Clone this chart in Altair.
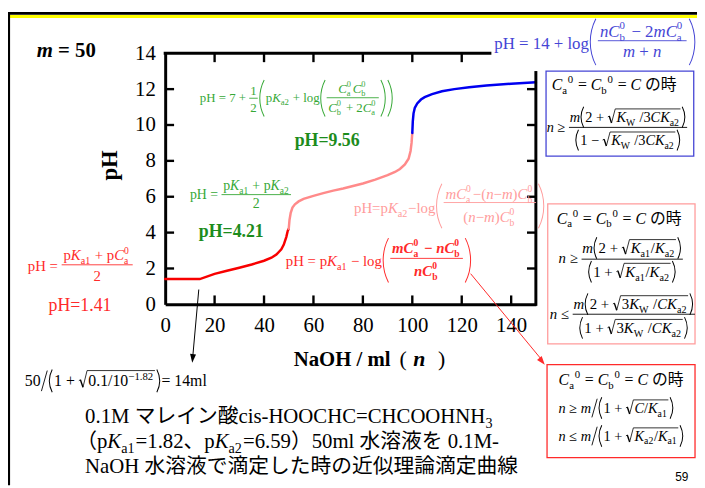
import math
import altair as alt
import pandas as pd

# ---------------- data ----------------
red_n   = [0, 14, 20, 25, 30, 35, 40, 43, 45, 47, 48, 49, 49.6, 50]
red_ph  = [1.41, 1.41, 1.70, 1.87, 2.04, 2.22, 2.43, 2.60, 2.78, 3.07, 3.33, 3.75, 4.10, 4.21]
pink_n  = [50, 50.3, 50.8, 51.5, 52.5, 54, 56, 60, 64, 68, 72, 76, 80, 85, 90, 93, 95, 97, 98.5, 99.3, 99.7, 100]
pink_ph = [4.21, 4.70, 5.10, 5.40, 5.58, 5.74, 5.88, 6.05, 6.20, 6.34, 6.46, 6.60, 6.74, 6.95, 7.20, 7.38, 7.55, 7.80, 8.12, 8.55, 9.00, 9.56]
blue_n  = [100, 100.2, 100.5, 101, 102, 103.5, 105, 108, 112, 117, 123, 130, 140, 150]
blue_ph = [9.56, 10.2, 10.65, 10.95, 11.2, 11.42, 11.55, 11.72, 11.88, 12.0, 12.1, 12.2, 12.3, 12.38]
x_ticks = [0, 20, 40, 60, 80, 100, 120, 140]
y_ticks = [0, 2, 4, 6, 8, 10, 12, 14]
top_ticks = [20, 40, 60, 80, 100, 120]
side_ticks = [2, 4, 6, 8, 10, 12]

RED = "#f80000"; PINK = "#ff8a8a"; BLUE = "#0000f0"
G_F = "#36a836"; G_B = "#1c8c1c"
RD = "#ff2a2a"; PK = "#ff9c9c"; BLF = "#4545d5"

OX, OY = 167, 51
SERIF = "Liberation Serif"
MIX = "Liberation Serif, Noto Sans CJK JP"
one = pd.DataFrame({"k": [0]})
layers = []

WR = {' ': .25, '!': .333, '(': .333, ')': .333, '+': .564, ',': .25, '-': .333, '.': .25, '/': .278,
      ':': .278, '=': .564, 'A': .722, 'B': .667, 'C': .667, 'D': .722, 'E': .611, 'F': .556, 'G': .722,
      'H': .722, 'I': .333, 'J': .389, 'K': .722, 'L': .611, 'M': .889, 'N': .722, 'O': .722, 'P': .556,
      'Q': .722, 'R': .667, 'S': .556, 'T': .611, 'U': .722, 'V': .722, 'W': .944, 'X': .722, 'Y': .722,
      'Z': .611, 'a': .444, 'b': .5, 'c': .444, 'd': .5, 'e': .444, 'f': .333, 'g': .5, 'h': .5, 'i': .278,
      'j': .278, 'k': .5, 'l': .278, 'm': .778, 'n': .5, 'o': .5, 'p': .5, 'q': .5, 'r': .333, 's': .389,
      't': .278, 'u': .5, 'v': .5, 'w': .722, 'x': .5, 'y': .5, 'z': .444, '−': .564, '≥': .549, '≤': .549}
WI = dict(WR); WI.update({'C': .667, 'K': .667, 'm': .722, 'n': .5, 'W': .833})
WB = dict(WR); WB.update({'p': .556, 'H': .778, '=': .570, 'O': .778, 'a': .5, 'm': .833, '−': .570, '+': .570})
WBI = dict(WB); WBI.update({'m': .778, 'n': .556, 'C': .667})
TABS = {"r": WR, "i": WI, "b": WB, "bi": WBI}


def tw(s, st):
    return sum(1.0 if ord(c) >= 0x2E80 else TABS[st].get(c, 0.5) for c in s)


def P(x):
    return x - OX


def Q(y):
    return y - OY


def text(s, x, y, size, color="black", st="r", align="left", baseline="alphabetic", angle=None, font=MIX):
    if align == "left":
        lead = len(s) - len(s.lstrip(" "))
        x += lead * 0.25 * size
        s = s.strip(" ")
        if not s:
            return
    kw = dict(text=s.replace(" ", "\u00a0"), fontSize=round(size, 2), color=color, font=font, align=align,
              baseline=baseline, fontStyle="italic" if "i" in st else "normal",
              fontWeight="bold" if "b" in st else "normal")
    if angle is not None:
        kw["angle"] = angle
    layers.append(alt.Chart(one).mark_text(**kw).encode(x=alt.value(P(x)), y=alt.value(Q(y))))


def seg(x1, y1, x2, y2, color="black", w=1.0):
    layers.append(alt.Chart(one).mark_rule(color=color, strokeWidth=w).encode(
        x=alt.value(P(x1)), y=alt.value(Q(y1)), x2=alt.value(P(x2)), y2=alt.value(Q(y2))))


def box(x1, y1, x2, y2, color, w=1.3):
    layers.append(alt.Chart(one).mark_rect(fillOpacity=0, stroke=color, strokeWidth=w).encode(
        x=alt.value(P(x1)), y=alt.value(Q(y1)), x2=alt.value(P(x2)), y2=alt.value(Q(y2))))


def arc(ch, xl, cy, h, w, color, lw=1.0):
    R_ = (h * h / 4 + w * w) / (2 * w)
    a = math.asin(min(1.0, (h / 2) / R_))
    if ch == "(":
        cx = xl + R_
        t1, t2 = 1.5 * math.pi - a, 1.5 * math.pi + a
    else:
        cx = xl + w - R_
        t1, t2 = 0.5 * math.pi - a, 0.5 * math.pi + a
    layers.append(alt.Chart(one).mark_arc(innerRadius=R_ - lw / 2, outerRadius=R_ + lw / 2, color=color).encode(
        x=alt.value(P(cx)), y=alt.value(Q(cy)), theta=alt.value(t1), theta2=alt.value(t2)))


def arrowhead(x, y, angle, color, size=300):
    layers.append(alt.Chart(one).mark_point(shape="M0,0L-0.35,-1L0.35,-1Z", filled=True, opacity=1,
                                            size=size, angle=angle, color=color, strokeWidth=0).encode(
        x=alt.value(P(x)), y=alt.value(Q(y))))


def R(s): return ("n", s, "r")
def I(s): return ("n", s, "i")
def B(s): return ("n", s, "b")
def BI(s): return ("n", s, "bi")
def SB(s, st="r"): return ("sub", s, st)
def SP(s, st="r"): return ("sup", s, st)
def SS(a, b, st="r"): return ("ss", (a, b), st)
def T(*toks): return ("t", list(toks))


SCR = 0.68


def lay(elems, x, base, s, col, draw=True):
    x0 = x
    for e in elems:
        k = e[0]
        if k == "t":
            for kind, txt, st in e[1]:
                if kind == "n":
                    if draw:
                        text(txt, x, base, s, col, st)
                    x += tw(txt, st) * s
                elif kind == "sub":
                    if draw:
                        text(txt, x, base + 0.24 * s, s * SCR, col, st)
                    x += tw(txt, st) * s * SCR + 0.05 * s
                elif kind == "sup":
                    if draw:
                        text(txt, x, base - 0.42 * s, s * SCR, col, st)
                    x += tw(txt, st) * s * SCR + 0.05 * s
                else:
                    a_, b_ = txt
                    if draw:
                        text(a_, x, base + 0.27 * s, s * SCR * 0.95, col, st)
                        text(b_, x, base - 0.46 * s, s * SCR * 0.95, col, st)
                    x += max(tw(a_, st), tw(b_, st)) * s * SCR + 0.12 * s
        elif k == "frac":
            num, den, o = e[1], e[2], e[3]
            wn = lay(num, 0, 0, s, col, False)
            wd = lay(den, 0, 0, s, col, False)
            pad = o.get("pad", 0.12) * s
            W = max(wn, wd) + 2 * pad
            ly = o.get("ly", base - 0.3 * s)
            if draw:
                seg(x, ly, x + W, ly, col, o.get("lw", 0.9))
                lay(num, x + (W - wn) / 2, ly - o.get("nu", 0.4) * s, s, col)
                lay(den, x + (W - wd) / 2, ly + o.get("dn", 1.1) * s, s, col)
            x += W + 0.08 * s
        elif k == "paren":
            ch, h = e[1], e[2]
            cy = e[3] if len(e) > 3 else base - 0.35 * s
            w = max(2.0, 0.12 * h)
            if draw:
                arc(ch, x + 0.08 * s, cy, h, w, col)
            x += w + 0.2 * s
        elif k == "sqrt":
            inner = e[1]
            topf = e[2] if len(e) > 2 else 0.92
            wi = lay(inner, 0, 0, s, col, False)
            top = base - topf * s
            if draw:
                seg(x, base - 0.36 * s, x + 0.1 * s, base - 0.42 * s, col, 0.8)
                seg(x + 0.1 * s, base - 0.42 * s, x + 0.26 * s, base + 0.06 * s, col, 1.4)
                seg(x + 0.26 * s, base + 0.06 * s, x + 0.52 * s, top, col, 0.8)
                seg(x + 0.52 * s, top, x + 0.6 * s + wi + 0.06 * s, top, col, 0.8)
                lay(inner, x + 0.6 * s, base, s, col)
            x += 0.6 * s + wi + 0.1 * s
        elif k == "slash":
            if draw:
                seg(x + 0.05 * s, base + 0.3 * s, x + 0.42 * s, base - 1.0 * s, col, 0.9)
            x += 0.48 * s
        elif k == "gap":
            x += e[1] * s
    return x - x0


# ---------------- slide frame ----------------
seg(8, 10.7, 705, 10.7, "black", 2.7)
seg(8, 13.8, 705, 13.8, "#ffff00", 3.2)
seg(9, 9.4, 9, 488, "black", 2.2)

# plot frame pieces (top and right)
seg(165.5, 51, 497, 51, "black", 3)
seg(542, 69, 542, 306.5, "black", 3)

# ---------------- texts ----------------
text("m", 37, 55, 21, st="bi")
text(" = 50", 37 + 0.778 * 21, 55, 21, st="b")
text("pH", 111, 164.5, 23, st="b", align="center", baseline="middle", angle=270)
text("NaOH / ml", 297, 367, 21, st="b")
text("(", 404, 367, 22, st="r")
text("n", 418, 367, 22, st="bi")
text(")", 443, 367, 22, st="r")

# green formulas
h1 = 37
lay([T(R("pH = 7 + ")),
     ("frac", [T(R("1"))], [T(R("2"))], {"ly": 96.5, "nu": 0.28, "dn": 1.1, "pad": 0.08}),
     ("paren", "(", h1, 96.5),
     T(R("p"), I("K"), SB("a2"), R(" + log")),
     ("paren", "(", h1, 96.5),
     ("frac", [T(I("C"), SS("a", "0"), I("C"), SS("b", "0"))],
      [T(I("C"), SS("b", "0"), R(" + 2"), I("C"), SS("a", "0"))], {"ly": 96, "nu": 0.4, "dn": 1.1}),
     ("paren", ")", h1, 96.5), ("paren", ")", h1, 96.5)],
    202, 100.7, 13, G_F)
text("pH=9.56", 298, 145, 18, G_B, "b")
lay([T(R("pH = ")),
     ("frac", [T(R("p"), I("K"), SB("a1"), R(" + p"), I("K"), SB("a2"))], [T(R("2"))],
      {"ly": 194, "nu": 0.3, "dn": 1.0})], 192, 198.3, 14, G_F)
text("pH=4.21", 201, 236.7, 18, G_B, "b")

# red formulas
lay([T(R("pH = ")),
     ("frac", [T(R("p"), I("K"), SB("a1"), R(" + p"), I("C"), SS("a", "0"))], [T(R("2"))],
      {"ly": 265, "nu": 0.3, "dn": 1.1})], 28, 271.7, 15, RD)
text("pH=1.41", 49, 312, 18, RD)
lay([T(R("pH = p"), I("K"), SB("a1"), R(" − log")),
     ("paren", "(", 45, 260.5),
     ("frac", [T(BI("m"), BI("C"), SS("a", "0", "b"), B(" − "), BI("n"), BI("C"), SS("b", "0", "b"))],
      [T(BI("n"), BI("C"), SS("b", "0", "b"))], {"ly": 258.5, "nu": 0.35, "dn": 1.2}),
     ("paren", ")", 45, 260.5)], 289, 266.5, 15, RD)

# pink formula
lay([T(R("pH=p"), I("K"), SB("a2"), R("−log")),
     ("paren", "(", 45, 205.5),
     ("frac", [T(I("m"), I("C"), SS("a", "0"), R("−("), I("n"), R("−"), I("m"), R(")"), I("C"), SS("b", "0"))],
      [T(R("("), I("n"), R("−"), I("m"), R(")"), I("C"), SS("b", "0"))], {"ly": 202, "nu": 0.25, "dn": 1.33}),
     ("paren", ")", 45, 205.5)], 358, 213, 15, PK)

# blue formula
lay([T(R("pH = 14 + log")), ("paren", "(", 47, 39.5),
     ("frac", [T(I("n"), I("C"), SS("b", "0"), R(" − 2"), I("m"), I("C"), SS("a", "0"))],
      [T(I("m"), R(" + "), I("n"))], {"ly": 38.3, "nu": 0.24, "dn": 0.94}),
     ("paren", ")", 47, 39.5)], 500, 46.7, 17, BLF)

# ---------------- boxes ----------------
HEAD = [T(I("C"), SB("a"), SP("0"), R(" = "), I("C"), SB("b"), SP("0"), R(" = "), I("C"), R(" の時"))]

box(552.3, 69, 701.7, 155, BLF, 1.3)
lay(HEAD, 558, 88.3, 16, "black")
s = 14.5; hb = 1.45 * s
rad = [T(I("K"), SB("W"), R(" /3"), I("C"), I("K"), SB("a2"))]
lay([T(I("n"), R(" ≥ ")),
     ("frac", [T(I("m")), ("paren", "(", hb), T(R("2 + ")), ("sqrt", rad), ("paren", ")", hb)],
      [("paren", "(", hb), T(R("1 − ")), ("sqrt", rad), ("paren", ")", hb)],
      {"ly": 126, "nu": 0.37, "dn": 1.24, "pad": 0.05})], 553, 130.7, s, "black")

box(554, 203.3, 703, 345, PK, 1.3)
lay(HEAD, 563, 223.3, 16, "black")
s = 15; hb = 1.45 * s
radA = [T(I("K"), SB("a1"), R("/"), I("K"), SB("a2"))]
lay([T(I("n"), R(" ≥ ")),
     ("frac", [T(I("m")), ("paren", "(", hb), T(R("2 + ")), ("sqrt", radA), ("paren", ")", hb)],
      [("paren", "(", hb), T(R("1 + ")), ("sqrt", radA), ("paren", ")", hb)],
      {"ly": 259.3, "nu": 0.4, "dn": 1.2, "pad": 0.05})], 565, 263.3, s, "black")
radB = [T(R("3"), I("K"), SB("W"), R(" /"), I("C"), I("K"), SB("a2"))]
lay([T(I("n"), R(" ≤ ")),
     ("frac", [T(I("m")), ("paren", "(", hb), T(R("2 + ")), ("sqrt", radB), ("paren", ")", hb)],
      [("paren", "(", hb), T(R("1 + ")), ("sqrt", radB), ("paren", ")", hb)],
      {"ly": 315, "nu": 0.33, "dn": 1.27, "pad": 0.05})], 556, 320, s, "black")

box(553.3, 366, 703, 460, RD, 1.3)
lay(HEAD, 565, 386.7, 16, "black")
s = 14.5; hr = 1.5 * s
lay([T(I("n"), R(" ≥ "), I("m")), ("slash",), ("paren", "(", hr), T(R("1 + ")),
     ("sqrt", [T(I("C"), R("/"), I("K"), SB("a1"))]), ("paren", ")", hr)], 565, 415, s, "black")
lay([T(I("n"), R(" ≤ "), I("m")), ("slash",), ("paren", "(", hr), T(R("1 + ")),
     ("sqrt", [T(I("K"), SB("a2"), R("/"), I("K"), SB("a1"))]), ("paren", ")", hr)], 565, 443.3, s, "black")

# arrows
seg(476, 274, 547, 360, RD, 1)
arrowhead(551, 366, 320.8, RD, 300)
seg(201, 290, 195, 357, "black", 1)
arrowhead(194.4, 364, 5.2, "black", 300)

# note and caption
lay([T(R("50")), ("slash",), ("paren", "(", 23), T(R("1 + ")),
     ("sqrt", [T(R("0.1/10"), SP("−1.82"))], 1.0), ("paren", ")", 23), T(R("= 14ml"))], 25, 388, 16, "black")
lay([T(R("0.1M マレイン酸cis-HOOCHC=CHCOOHNH"), SB("3"))], 86, 425, 21, "black")
lay([T(R("（p"), I("K"), SB("a1"), R("=1.82、p"), I("K"), SB("a2"), R("=6.59）50ml 水溶液を 0.1M-"))],
    77, 450, 21, "black")
lay([T(R("NaOH 水溶液で滴定した時の近似理論滴定曲線"))], 86, 476, 21, "black")
text("59", 683, 484, 12, font="Liberation Sans")

# ---------------- curve and ticks ----------------
curve_df = pd.DataFrame({
    "n": red_n + pink_n + blue_n,
    "pH": red_ph + pink_ph + blue_ph,
    "seg": ["a"] * len(red_n) + ["b"] * len(pink_n) + ["c"] * len(blue_n),
})
curve_df["i"] = range(len(curve_df))
XS = alt.Scale(domain=[0, 150], nice=False, zero=False)
YS = alt.Scale(domain=[0, 14], nice=False, zero=False)
AXX = alt.Axis(values=x_ticks, title=None, grid=False, ticks=False, tickSize=0, domainWidth=3,
               domainColor="black", labelFont=SERIF, labelFontSize=21, labelColor="black",
               labelPadding=10, labelFlush=False)
AXY = alt.Axis(values=y_ticks, title=None, grid=False, ticks=False, tickSize=0, domainWidth=3,
               domainColor="black", labelFont=SERIF, labelFontSize=21, labelColor="black",
               labelPadding=10, labelFlush=False)

curve = alt.Chart(curve_df).mark_line(strokeWidth=2.5, strokeCap="round").encode(
    x=alt.X("n:Q", scale=XS, axis=AXX, title=None),
    y=alt.Y("pH:Q", scale=YS, axis=AXY, title=None),
    color=alt.Color("seg:N", scale=alt.Scale(domain=["a", "b", "c"], range=[RED, PINK, BLUE]), legend=None),
    order="i:Q",
)

bt = alt.Chart(pd.DataFrame({"v": x_ticks[1:]})).mark_rule(color="black", strokeWidth=2.4).encode(
    x=alt.X("v:Q", scale=XS, axis=AXX, title=None), y=alt.value(254), y2=alt.value(245))
tt = alt.Chart(pd.DataFrame({"v": top_ticks})).mark_rule(color="black", strokeWidth=2.4).encode(
    x=alt.X("v:Q", scale=XS, axis=AXX, title=None), y=alt.value(0), y2=alt.value(9))
lt = alt.Chart(pd.DataFrame({"v": side_ticks})).mark_rule(color="black", strokeWidth=2.4).encode(
    y=alt.Y("v:Q", scale=YS, axis=AXY, title=None), x=alt.value(0), x2=alt.value(9))
rt = alt.Chart(pd.DataFrame({"v": side_ticks})).mark_rule(color="black", strokeWidth=2.4).encode(
    y=alt.Y("v:Q", scale=YS, axis=AXY, title=None), x=alt.value(375), x2=alt.value(366))

chart = alt.layer(curve, bt, tt, lt, rt, *layers).properties(
    width=375, height=254,
    padding={"left": 159, "top": 43, "right": 163, "bottom": 183},
    autosize=alt.AutoSizeParams(type="none"),
    background="white",
).configure_view(strokeWidth=0)

chart.save("out.html", embed_options={"renderer": "svg", "actions": False})
